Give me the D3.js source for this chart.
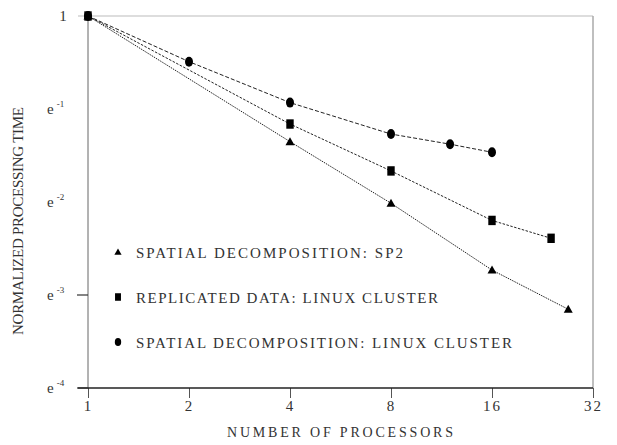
<!DOCTYPE html>
<html><head><meta charset="utf-8">
<script src="https://cdn.jsdelivr.net/npm/d3@7/dist/d3.min.js"></script>
<style>body{margin:0;background:#fff}svg{display:block}text{font-family:"Liberation Serif","DejaVu Serif",serif;fill:#333}</style>
</head><body><svg id="c" width="617" height="445"></svg>
<script>
const xTicks = [1, 2, 4, 8, 16, 32];
const yTicks = [0, -1, -2, -3, -4]; // exponents of e
const triN = [1, 4, 8, 16, 27];
const triV = [1, 0.259, 0.1335, 0.0651, 0.0427];
const sqN = [1, 4, 8, 16, 24];
const sqV = [1, 0.313, 0.189, 0.111, 0.0916];
const ciN = [1, 2, 4, 8, 12, 16];
const ciV = [1, 0.612, 0.394, 0.281, 0.252, 0.231];
const legendLabels = ["SPATIAL DECOMPOSITION: SP2", "REPLICATED DATA: LINUX CLUSTER", "SPATIAL DECOMPOSITION: LINUX CLUSTER"];

const svg = d3.select("#c");
const x = d3.scaleLog().base(2).domain([1, 32]).range([88, 593]);
const y = d3.scaleLog().base(Math.E).domain([Math.exp(-4), 1]).range([388, 16]);

// frame
svg.append("line").attr("x1", 78).attr("x2", 593).attr("y1", y(1)).attr("y2", y(1)).attr("stroke", "#bbb").attr("stroke-width", 1.2);
svg.append("line").attr("x1", 593).attr("x2", 593).attr("y1", y(1)).attr("y2", 388).attr("stroke", "#aaa").attr("stroke-width", 1.5);
svg.append("line").attr("x1", 88).attr("x2", 88).attr("y1", y(1)).attr("y2", 388).attr("stroke", "#666").attr("stroke-width", 1);

// x axis
const xAxis = d3.axisBottom(x).tickValues(xTicks).tickSize(10).tickFormat(d3.format("d"));
const gx = svg.append("g").attr("transform", "translate(0,388)").call(xAxis);
gx.select(".domain").remove();
gx.selectAll(".tick line").attr("stroke", "#555");
gx.selectAll(".tick text").attr("font-size", 15).attr("dy", "0.45em").attr("y", 16).attr("letter-spacing", 2).style("font-family", '"Liberation Serif",serif').attr("fill", "#333");
svg.append("line").attr("x1", 78).attr("x2", 593).attr("y1", 388).attr("y2", 388).attr("stroke", "#222").attr("stroke-width", 1.3);

// y ticks (only lower ticks visible in reference)
yTicks.filter(e => e <= -3).forEach(e => {
  svg.append("line").attr("x1", 77).attr("x2", 88).attr("y1", y(Math.exp(e))).attr("y2", y(Math.exp(e))).attr("stroke", "#333").attr("stroke-width", 1.2);
});
yTicks.forEach(e => {
  const yy = y(Math.exp(e));
  if (e === 0) {
    svg.append("text").attr("x", 63).attr("y", yy + 5).attr("text-anchor", "middle").attr("font-size", 15).text("1");
  } else {
    const t = svg.append("text").attr("x", 47).attr("y", yy + 5).attr("font-size", 15);
    t.append("tspan").text("e");
    t.append("tspan").attr("dx", 3).attr("dy", -7).attr("font-size", 9).text(String(e).replace("-", "-"));
  }
});

// titles
svg.append("text").attr("x", 340).attr("y", 437).attr("text-anchor", "middle").attr("font-size", 14)
  .attr("textLength", 226).attr("lengthAdjust", "spacing").text("NUMBER OF PROCESSORS");
svg.append("text").attr("transform", "translate(23,221) rotate(-90)").attr("text-anchor", "middle").attr("font-size", 15)
  .attr("textLength", 228).attr("lengthAdjust", "spacing").text("NORMALIZED PROCESSING TIME");

// lines
const line = d3.line().x(d => x(d[0])).y(d => y(d[1]));
const series = [
  {n: triN, v: triV, dash: "1.5,1", shape: "tri"},
  {n: sqN, v: sqV, dash: "2.5,1.5", shape: "sq"},
  {n: ciN, v: ciV, dash: "4,2", shape: "ci"}
];
function marker(g, shape, cx, cy, s) {
  if (shape === "tri") {
    g.append("path").attr("d", `M${cx},${cy - 4.5 * s}L${cx + 4.5 * s},${cy + 3.5 * s}L${cx - 4.5 * s},${cy + 3.5 * s}Z`).attr("fill", "#000");
  } else if (shape === "sq") {
    g.append("rect").attr("x", cx - 3.7 * s).attr("y", cy - 4.7 * s).attr("width", 7.4 * s).attr("height", 9.4 * s).attr("fill", "#000");
  } else {
    g.append("ellipse").attr("cx", cx).attr("cy", cy).attr("rx", 4 * s).attr("ry", 5 * s).attr("fill", "#000");
  }
}
series.forEach(s => {
  const pts = s.n.map((n, i) => [n, s.v[i]]);
  svg.append("path").datum(pts).attr("d", line).attr("fill", "none").attr("stroke", "#222").attr("stroke-width", 1).attr("stroke-dasharray", s.dash);
});
[series[0], series[2], series[1]].forEach(s => {
  const g = svg.append("g");
  s.n.forEach((n, i) => marker(g, s.shape, x(n), y(s.v[i]), 1));
});

// legend
const legY = [252, 297, 342];
const legW = [267, 302, 376];
const legShapes = ["tri", "sq", "ci"];
legendLabels.forEach((lab, i) => {
  const g = svg.append("g");
  marker(g, legShapes[i], 118, legY[i], 0.8);
  svg.append("text").attr("x", 136).attr("y", legY[i] + 5.5).attr("font-size", 15)
    .attr("textLength", legW[i]).attr("lengthAdjust", "spacing").text(lab);
});
</script></body></html>
